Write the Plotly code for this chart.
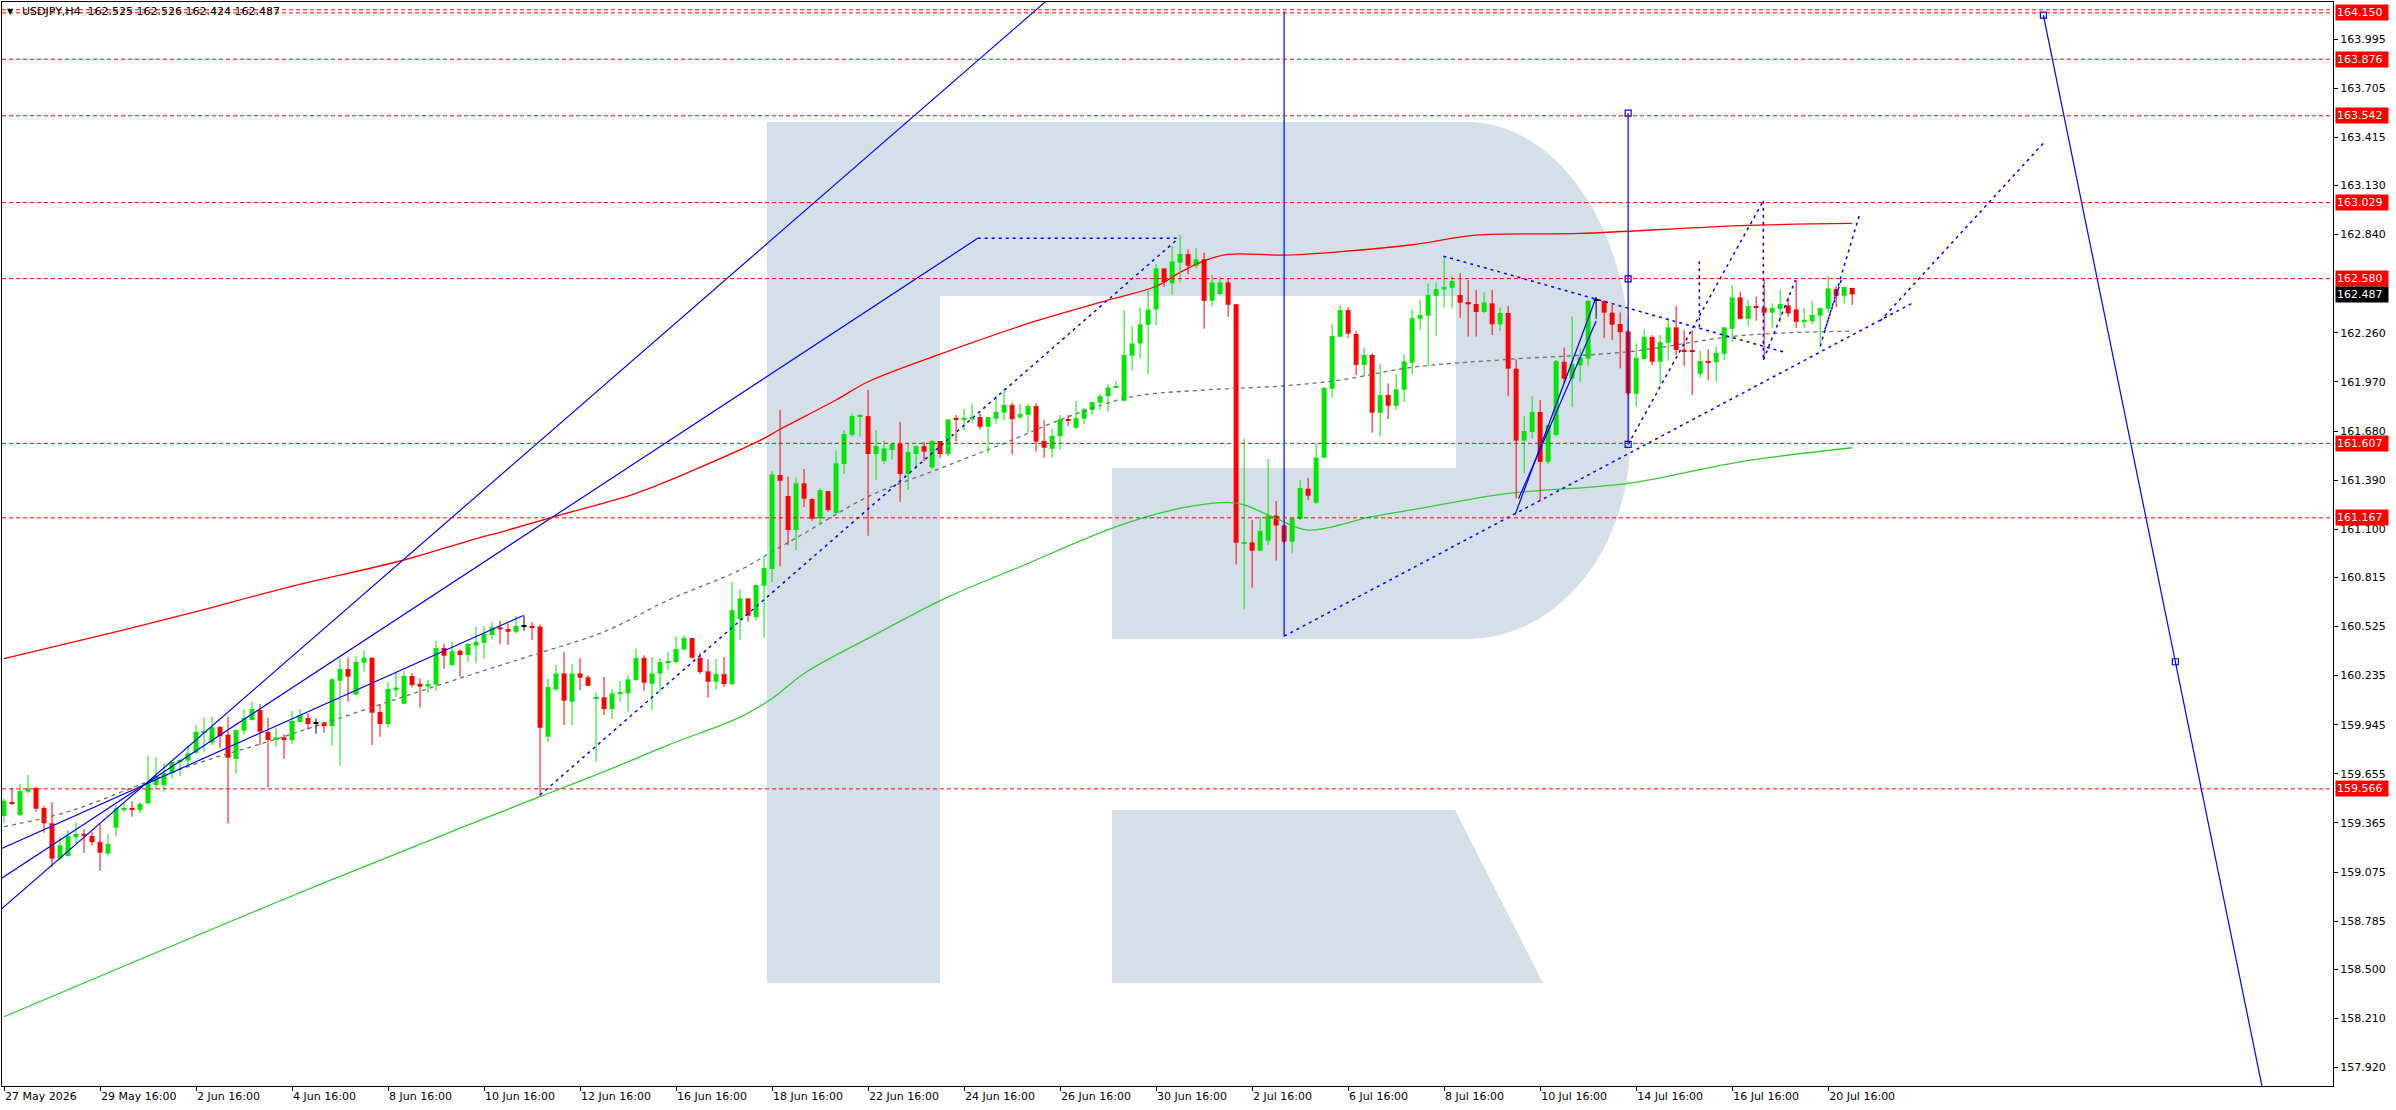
import numpy as np
import plotly.graph_objects as go

W, H = 2396, 1110
# MT4 frame in page pixels
L, R, T, B = 2, 2333, 2, 1086

# --- USDJPY H4 candles, one per bar index
opens = [159.406, 159.489, 159.412, 159.550, 159.571, 159.453, 159.363, 159.154, 159.170, 159.280,
         159.300, 159.288, 159.252, 159.185, 159.337, 159.445, 159.453, 159.441, 159.481, 159.589,
         159.587, 159.658, 159.729, 159.733, 159.780, 159.898, 159.839, 159.932, 159.886, 159.743,
         159.910, 159.973, 160.032, 159.902, 159.855, 159.870, 159.855, 159.961, 159.985, 159.953,
         159.957, 159.937, 160.205, 160.274, 160.123, 160.312, 160.341, 160.020, 159.949, 160.154,
         160.069, 160.233, 160.186, 160.170, 160.182, 160.398, 160.298, 160.382, 160.357, 160.412,
         160.429, 160.475, 160.520, 160.510, 160.494, 160.528, 160.528, 160.524, 159.874, 160.154,
         160.248, 160.081, 160.248, 160.225, 160.099, 160.107, 160.038, 160.130, 160.130, 160.209,
         160.339, 160.187, 160.248, 160.311, 160.315, 160.390, 160.457, 160.341, 160.260, 160.199,
         160.244, 160.185, 160.569, 160.691, 160.581, 160.766, 160.865, 161.420, 161.296, 161.095,
         161.371, 161.278, 161.164, 161.325, 161.195, 161.485, 161.656, 161.768, 161.768, 161.544,
         161.503, 161.568, 161.605, 161.426, 161.544, 161.591, 161.465, 161.621, 161.544, 161.751,
         161.749, 161.749, 161.762, 161.705, 161.753, 161.788, 161.833, 161.760, 161.776, 161.827,
         161.621, 161.575, 161.650, 161.751, 161.699, 161.753, 161.804, 161.847, 161.886, 161.936,
         161.859, 162.125, 162.197, 162.308, 162.398, 162.640, 162.552, 162.674, 162.725, 162.656,
         162.694, 162.449, 162.489, 162.558, 162.428, 161.018, 161.022, 160.973, 161.032, 161.181,
         161.122, 161.026, 161.160, 161.339, 161.256, 161.522, 161.930, 162.237, 162.394, 162.253,
         162.071, 162.129, 161.788, 161.892, 161.829, 161.924, 162.083, 162.343, 162.361, 162.479,
         162.516, 162.526, 162.483, 162.442, 162.430, 162.383, 162.434, 162.310, 162.377, 162.048,
         161.623, 161.674, 161.792, 161.498, 161.656, 162.089, 161.989, 162.068, 162.107, 162.453,
         162.448, 162.379, 162.312, 162.268, 161.900, 162.105, 162.235, 162.089, 162.201, 162.292,
         162.160, 162.158, 162.018, 162.093, 162.087, 162.136, 162.284, 162.469, 162.343, 162.418,
         162.410, 162.379, 162.402, 162.422, 162.398, 162.327, 162.329, 162.361, 162.402, 162.518,
         162.479, 162.525]
highs = [159.510, 159.573, 159.595, 159.648, 159.579, 159.465, 159.487, 159.284, 159.323, 159.368,
         159.327, 159.313, 159.357, 159.300, 159.471, 159.481, 159.492, 159.488, 159.760, 159.752,
         159.717, 159.725, 159.741, 159.815, 159.943, 159.987, 159.993, 159.937, 159.993, 159.918,
         160.036, 160.081, 160.067, 159.987, 159.928, 159.888, 160.026, 160.038, 160.012, 159.981,
         159.963, 160.221, 160.337, 160.341, 160.349, 160.386, 160.341, 160.067, 160.197, 160.258,
         160.262, 160.251, 160.219, 160.209, 160.440, 160.422, 160.434, 160.390, 160.426, 160.522,
         160.528, 160.551, 160.559, 160.544, 160.587, 160.591, 160.551, 160.538, 160.217, 160.298,
         160.374, 160.303, 160.339, 160.238, 160.134, 160.229, 160.156, 160.203, 160.238, 160.394,
         160.355, 160.345, 160.339, 160.376, 160.465, 160.473, 160.457, 160.370, 160.331, 160.333,
         160.345, 160.788, 160.744, 160.691, 160.770, 160.941, 161.443, 161.804, 161.410, 161.406,
         161.455, 161.282, 161.341, 161.325, 161.564, 161.686, 161.784, 161.780, 161.922, 161.686,
         161.623, 161.603, 161.733, 161.607, 161.593, 161.615, 161.627, 161.621, 161.749, 161.774,
         161.810, 161.839, 161.784, 161.764, 161.888, 161.936, 161.847, 161.839, 161.839, 161.843,
         161.745, 161.695, 161.774, 161.774, 161.857, 161.814, 161.851, 161.900, 161.957, 161.975,
         162.394, 162.300, 162.410, 162.513, 162.666, 162.640, 162.772, 162.837, 162.753, 162.759,
         162.733, 162.601, 162.591, 162.581, 162.428, 161.636, 161.154, 161.174, 161.514, 161.266,
         161.130, 161.168, 161.390, 161.402, 161.603, 161.941, 162.312, 162.424, 162.410, 162.270,
         162.174, 162.138, 162.075, 161.961, 162.016, 162.134, 162.398, 162.453, 162.552, 162.556,
         162.713, 162.595, 162.611, 162.572, 162.513, 162.501, 162.513, 162.410, 162.418, 162.103,
         161.768, 161.886, 161.863, 161.721, 162.099, 162.172, 162.355, 162.168, 162.457, 162.469,
         162.453, 162.424, 162.381, 162.276, 162.197, 162.280, 162.247, 162.247, 162.345, 162.418,
         162.276, 162.276, 162.154, 162.162, 162.178, 162.296, 162.542, 162.501, 162.453, 162.473,
         162.581, 162.434, 162.516, 162.469, 162.572, 162.408, 162.449, 162.410, 162.595, 162.536,
         162.530, 162.526]
lows = [159.363, 159.471, 159.406, 159.540, 159.431, 159.307, 159.103, 159.146, 159.166, 159.244,
        159.189, 159.231, 159.083, 159.173, 159.288, 159.427, 159.402, 159.422, 159.477, 159.563,
        159.550, 159.626, 159.642, 159.707, 159.772, 159.786, 159.825, 159.809, 159.363, 159.658,
        159.886, 159.969, 159.825, 159.575, 159.815, 159.743, 159.831, 159.959, 159.914, 159.892,
        159.898, 159.821, 159.703, 160.081, 160.121, 160.258, 159.825, 159.874, 159.928, 160.109,
        160.067, 160.166, 160.046, 160.134, 160.144, 160.276, 160.292, 160.229, 160.315, 160.308,
        160.335, 160.449, 160.422, 160.416, 160.481, 160.500, 160.445, 159.524, 159.843, 160.144,
        159.943, 159.943, 160.150, 160.175, 159.727, 160.002, 159.979, 160.081, 160.022, 160.203,
        160.146, 160.032, 160.140, 160.268, 160.307, 160.382, 160.335, 160.244, 160.105, 160.150,
        160.168, 160.181, 160.445, 160.553, 160.563, 160.459, 160.788, 160.882, 161.006, 160.977,
        161.231, 161.150, 161.124, 161.203, 161.188, 161.426, 161.646, 161.646, 161.061, 161.390,
        161.485, 161.512, 161.262, 161.331, 161.459, 161.503, 161.455, 161.522, 161.532, 161.617,
        161.682, 161.725, 161.689, 161.548, 161.725, 161.743, 161.542, 161.751, 161.670, 161.558,
        161.522, 161.522, 161.571, 161.709, 161.691, 161.721, 161.774, 161.804, 161.794, 161.932,
        161.853, 162.036, 162.109, 162.014, 162.306, 162.532, 162.485, 162.556, 162.605, 162.641,
        162.284, 162.414, 162.483, 162.355, 160.892, 160.626, 160.754, 160.971, 161.006, 160.914,
        161.016, 160.957, 161.154, 161.272, 161.248, 161.522, 161.877, 162.233, 162.231, 162.010,
        162.001, 161.670, 161.646, 161.749, 161.804, 161.851, 162.016, 162.276, 162.064, 162.241,
        162.410, 162.408, 162.349, 162.237, 162.237, 162.375, 162.247, 162.270, 161.888, 161.282,
        161.430, 161.636, 161.272, 161.485, 161.646, 161.961, 161.823, 161.971, 162.066, 162.343,
        162.229, 162.217, 162.050, 161.892, 161.823, 162.103, 162.070, 161.957, 162.095, 162.129,
        162.064, 161.892, 161.995, 161.979, 161.973, 162.099, 162.207, 162.339, 162.300, 162.331,
        162.103, 162.290, 162.320, 162.355, 162.290, 162.290, 162.310, 162.194, 162.379, 162.410,
        162.434, 162.424]
closes = [159.496, 159.477, 159.553, 159.569, 159.449, 159.363, 159.154, 159.233, 159.288, 159.300,
          159.288, 159.252, 159.189, 159.240, 159.451, 159.453, 159.441, 159.477, 159.599, 159.642,
          159.658, 159.725, 159.737, 159.776, 159.902, 159.908, 159.930, 159.878, 159.750, 159.914,
          159.985, 160.038, 159.904, 159.855, 159.870, 159.855, 159.967, 160.002, 159.949, 159.953,
          159.937, 160.213, 160.274, 160.229, 160.316, 160.341, 160.016, 159.949, 160.156, 160.164,
          160.233, 160.180, 160.170, 160.186, 160.398, 160.353, 160.380, 160.357, 160.422, 160.434,
          160.481, 160.520, 160.508, 160.494, 160.528, 160.528, 160.520, 159.927, 160.168, 160.248,
          160.087, 160.248, 160.223, 160.175, 160.107, 160.038, 160.130, 160.138, 160.213, 160.339,
          160.193, 160.248, 160.315, 160.319, 160.392, 160.457, 160.341, 160.256, 160.199, 160.244,
          160.185, 160.622, 160.691, 160.589, 160.770, 160.870, 161.424, 161.386, 161.095, 161.371,
          161.280, 161.162, 161.331, 161.213, 161.489, 161.662, 161.768, 161.774, 161.544, 161.591,
          161.577, 161.603, 161.426, 161.556, 161.591, 161.558, 161.621, 161.544, 161.749, 161.745,
          161.754, 161.762, 161.705, 161.762, 161.792, 161.833, 161.751, 161.780, 161.827, 161.617,
          161.581, 161.650, 161.749, 161.739, 161.756, 161.808, 161.851, 161.886, 161.937, 161.941,
          162.129, 162.197, 162.310, 162.398, 162.640, 162.560, 162.682, 162.725, 162.656, 162.694,
          162.449, 162.558, 162.558, 162.426, 161.020, 161.024, 160.973, 161.089, 161.181, 161.122,
          161.026, 161.164, 161.343, 161.298, 161.524, 161.934, 162.241, 162.394, 162.255, 162.071,
          162.129, 161.788, 161.892, 161.829, 161.926, 162.091, 162.347, 162.365, 162.483, 162.518,
          162.530, 162.566, 162.438, 162.428, 162.383, 162.440, 162.310, 162.377, 162.048, 161.623,
          161.680, 161.792, 161.498, 161.715, 162.093, 161.989, 162.075, 162.115, 162.448, 162.453,
          162.379, 162.308, 162.264, 161.902, 162.113, 162.235, 162.089, 162.205, 162.292, 162.158,
          162.152, 162.148, 162.093, 162.087, 162.142, 162.292, 162.469, 162.343, 162.418, 162.408,
          162.379, 162.406, 162.430, 162.375, 162.325, 162.337, 162.365, 162.406, 162.522, 162.479,
          162.530, 162.487]

# time axis labels every 12 bars
tick_bars = list(range(0, 229, 12))
tick_text = ["27 May 2026", "29 May 16:00", "2 Jun 16:00", "4 Jun 16:00", "8 Jun 16:00",
             "10 Jun 16:00", "12 Jun 16:00", "16 Jun 16:00", "18 Jun 16:00", "22 Jun 16:00",
             "24 Jun 16:00", "26 Jun 16:00", "30 Jun 16:00", "2 Jul 16:00", "6 Jul 16:00",
             "8 Jul 16:00", "10 Jul 16:00", "14 Jul 16:00", "16 Jul 16:00", "20 Jul 16:00"]
price_ticks = [163.995, 163.705, 163.415, 163.130, 162.840, 162.260, 161.970, 161.680, 161.390,
               161.100, 160.815, 160.525, 160.235, 159.945, 159.655, 159.365, 159.075, 158.785,
               158.500, 158.210, 157.920]

levels = [164.150, 163.876, 163.542, 163.029, 162.580, 161.607, 161.167, 159.566]
last_price = 162.487
header = "USDJPY,H4  162.525 162.526 162.424 162.487"

# moving averages (sampled along the bars)
ma_red_x = [0, 15, 24, 35, 50, 58, 63, 70, 79, 87, 95, 97, 104, 108, 117, 129, 138, 144, 147, 150,
            153, 160, 167, 176, 184, 197, 217, 231]
ma_red_y = [160.335, 160.505, 160.613, 160.751, 160.918, 161.030, 161.095, 161.190, 161.312, 161.465,
            161.636, 161.690, 161.863, 161.971, 162.134, 162.330, 162.453, 162.535, 162.617, 162.685,
            162.723, 162.719, 162.739, 162.780, 162.837, 162.847, 162.893, 162.906]
ma_green_x = [0, 35, 60, 67, 75, 83, 92, 96, 100, 108, 118, 127, 139, 146, 153, 155, 159, 163, 171,
              177, 188, 203, 217, 231]
ma_green_y = [158.220, 158.914, 159.390, 159.520, 159.668, 159.825, 159.990, 160.100, 160.248, 160.455,
              160.700, 160.878, 161.115, 161.213, 161.258, 161.243, 161.164, 161.095, 161.174, 161.223,
              161.311, 161.371, 161.498, 161.581]
ma_gray_x = [0, 8, 18, 25, 33, 41, 50, 59, 67, 75, 83, 92, 96, 100, 108, 117, 125, 133, 141, 150,
             160, 167, 176, 188, 203, 217, 231]
ma_gray_y = [159.343, 159.431, 159.609, 159.730, 159.845, 159.969, 160.111, 160.250, 160.370, 160.494,
             160.680, 160.859, 160.967, 161.075, 161.292, 161.459, 161.607, 161.764, 161.882, 161.922,
             161.947, 161.981, 162.056, 162.103, 162.148, 162.243, 162.270]

# drawn objects: (bar0, price0, bar1, price1)
lines_solid = [(-0.5, 158.849, 131.0, 164.25), (-0.5, 159.032, 121.7, 162.818),
               (-0.5, 159.209, 64.9, 160.590), (160.0, 160.468, 160.0, 164.160),
               (203.0, 161.601, 203.0, 163.558), (188.9, 161.190, 199.0, 162.470),
               (189.3, 161.280, 199.0, 162.330), (254.9, 164.137, 283.0, 157.630)]
lines_dash = [(121.7, 162.818, 146.8, 162.818), (67.0, 159.530, 146.8, 162.818),
              (160.0, 160.468, 238.8, 162.442), (179.9, 162.713, 222.8, 162.142),
              (203.0, 161.601, 219.9, 163.040), (219.9, 163.040, 219.9, 162.100),
              (219.9, 162.100, 223.9, 162.570), (211.9, 162.682, 211.9, 162.280),
              (227.0, 162.180, 232.0, 162.970), (227.6, 162.280, 229.7, 162.580),
              (234.5, 162.330, 255.0, 163.385)]
anchor_x = [203.0, 203.0, 203.0, 254.9, 271.4]
anchor_y = [161.601, 162.579, 163.558, 164.137, 160.317]

UP, DOWN, DOJI = "#00e600", "#ff0000", "#000000"
BLUE = "#0000ff"

o, h, l, c = map(np.array, (opens, highs, lows, closes))
idx = np.arange(len(o))
groups = [(c > o, UP), (c < o, DOWN), (c == o, DOJI)]

fig = go.Figure()


def seg_xy(x0s, y0s, x1s, y1s):
    xs, ys = [], []
    for a, b, p, q in zip(x0s, y0s, x1s, y1s):
        xs += [a, p, None]
        ys += [b, q, None]
    return xs, ys


# moving averages first (under candles)
fig.add_trace(go.Scatter(x=ma_green_x, y=ma_green_y, mode="lines", line_shape="spline",
                         line=dict(color="#33cc33", width=1.3)))
fig.add_trace(go.Scatter(x=ma_red_x, y=ma_red_y, mode="lines", line_shape="spline",
                         line=dict(color="#ff0000", width=1.3)))
fig.add_trace(go.Scatter(x=ma_gray_x, y=ma_gray_y, mode="lines", line_shape="spline",
                         line=dict(color="#6e6e6e", width=1.3, dash="4px,4px")))

for mask, col in groups:
    xs, ys = seg_xy(idx[mask], l[mask], idx[mask], h[mask])
    fig.add_trace(go.Scatter(x=xs, y=ys, mode="lines", line=dict(color=col, width=1)))
    fig.add_trace(go.Bar(x=idx[mask], base=np.minimum(o, c)[mask],
                         y=np.maximum(np.abs(c - o), 0.004)[mask], width=0.62,
                         marker=dict(color=col, line=dict(width=0))))

# trend lines
sx, sy = seg_xy(*zip(*lines_solid))
fig.add_trace(go.Scatter(x=sx, y=sy, mode="lines", line=dict(color=BLUE, width=1.2)))
dx, dy = seg_xy(*zip(*lines_dash))
fig.add_trace(go.Scatter(x=dx, y=dy, mode="lines", line=dict(color=BLUE, width=1.5, dash="3px,4px")))
fig.add_trace(go.Scatter(x=anchor_x, y=anchor_y, mode="markers",
                         marker=dict(symbol="square-open", size=6, color=BLUE, line=dict(width=1.2))))

# horizontal levels
for lv in levels:
    fig.add_hline(y=lv, line=dict(color="#ff0000", width=1, dash="4px,3px"))
fig.add_hline(y=164.168, line=dict(color="#ff0000", width=1, dash="4px,3px"))


# watermark logo (page pixels -> paper)
def px(x):
    return (x - L) / (R - L)


def py(y):
    return 1 - (y - T) / (B - T)


k = 0.5523
bowl = [("M", 767, 122), ("L", 1467, 122),
        ("C", 1467 + k * 163, 122, 1630, 360 - k * 238, 1630, 360),
        ("L", 1630, 440),
        ("C", 1630, 440 + k * 199, 1467 + k * 163, 639, 1467, 639),
        ("L", 1112, 639), ("L", 1112, 468), ("L", 1456, 468), ("L", 1456, 296),
        ("L", 940, 296), ("L", 940, 983), ("L", 767, 983)]
path = ""
for cmd in bowl:
    pts = cmd[1:]
    path += cmd[0] + " " + " ".join(
        f"{px(pts[j]):.5f},{py(pts[j + 1]):.5f}" for j in range(0, len(pts), 2)) + " "
path += "Z"
leg = [(1112, 810), (1455, 810), (1543, 983), (1112, 983)]
leg_path = "M " + " L ".join(f"{px(a):.5f},{py(b):.5f}" for a, b in leg) + " Z"
for pth in (path, leg_path):
    fig.add_shape(type="path", path=pth, xref="paper", yref="paper", layer="below",
                  fillcolor="#d4dfea", line=dict(width=0))

# right-hand price labels
for lv in levels:
    fig.add_annotation(xref="paper", x=1, xanchor="left", xshift=2, y=lv, yref="y",
                       text=f"{lv:.3f}", showarrow=False, bgcolor="#ff0000", borderpad=1,
                       width=50, align="left", font=dict(color="white", size=11,
                                                         family="DejaVu Sans"))
fig.add_annotation(xref="paper", x=1, xanchor="left", xshift=2, y=last_price, yref="y",
                   text=f"{last_price:.3f}", showarrow=False, bgcolor="#000000", borderpad=1,
                   width=50, align="left", font=dict(color="white", size=11, family="DejaVu Sans"))

# header
fig.add_annotation(xref="paper", yref="paper", x=px(5), y=py(5), xanchor="left", yanchor="top",
                   text="▼", showarrow=False, font=dict(size=8, color="black", family="DejaVu Sans"))
fig.add_annotation(xref="paper", yref="paper", x=px(20), y=py(3), xanchor="left", yanchor="top",
                   text=header, showarrow=False, font=dict(size=11, color="black", family="DejaVu Sans"))

fig.update_layout(
    width=W, height=H, showlegend=False, plot_bgcolor="white", paper_bgcolor="white",
    margin=dict(l=L, r=W - R, t=T, b=H - B), barmode="overlay",
    font=dict(family="DejaVu Sans", size=11, color="black"),
    xaxis=dict(range=[-0.25, 291.1], tickvals=tick_bars, ticktext=tick_text, showgrid=False,
               zeroline=False, showline=True, linecolor="black", linewidth=1, mirror=True,
               ticks="outside", ticklen=4, tickcolor="black", ticklabelposition="outside right",
               fixedrange=True),
    yaxis=dict(range=[157.811, 164.214], side="right", tickvals=price_ticks,
               ticktext=[f"{v:.3f}" for v in price_ticks], showgrid=False, zeroline=False,
               showline=True, linecolor="black", linewidth=1, mirror=True, ticks="outside",
               ticklen=4, tickcolor="black", fixedrange=True),
)

fig.write_html("out.html", config={"displayModeBar": False},
               post_script="document.body.style.margin='0px';")
